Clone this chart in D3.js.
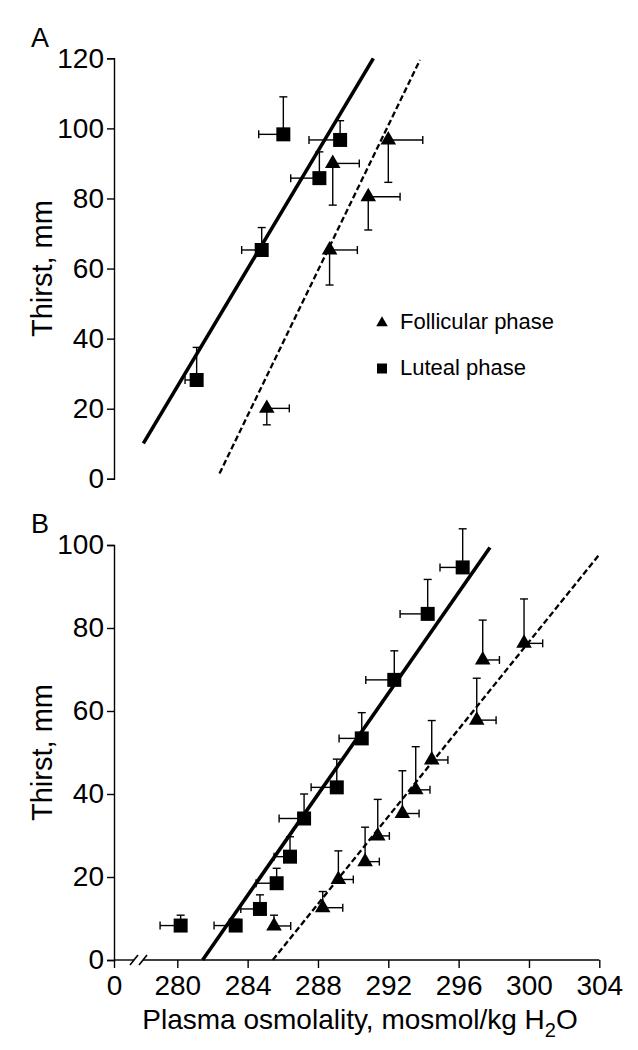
<!DOCTYPE html>
<html>
<head>
<meta charset="utf-8">
<script src="https://cdn.jsdelivr.net/npm/d3@7"></script>
<style>
  html, body { margin: 0; padding: 0; background: #fff; }
  svg { display: block; font-family: "Liberation Sans", Arial, Helvetica, sans-serif; }
</style>
</head>
<body>
<svg id="chart" width="638" height="1050"></svg>
<script>
// ---------------- DATA ----------------
// Panel A (osmolality mosmol/kg H2O, thirst mm, SEMs)
const aLutealOsm      = [281.1, 284.8, 286.03, 288.08, 289.26];
const aLutealThirst   = [28.2, 65.3, 98.3, 85.8, 96.7];
const aLutealOsmSem   = [0.66, 1.14, 1.4, 1.63, 1.77];
const aLutealThSem    = [9.3, 6.4, 10.7, 7.5, 5.5];

const aFollOsm        = [285.09, 288.66, 288.84, 290.86, 292.0];
const aFollThirst     = [20.1, 65.3, 90.0, 80.5, 96.7];
const aFollOsmSem     = [1.28, 1.58, 1.51, 1.81, 1.96];
const aFollThSem      = [4.7, 10.0, 11.9, 9.5, 12.1];

// Panel B
const bLutealOsm      = [280.19, 283.32, 284.7, 285.65, 286.41, 287.21, 289.07, 290.49, 292.34, 294.24, 296.23];
const bLutealThirst   = [8.3, 8.3, 12.3, 18.5, 24.9, 34.1, 41.6, 53.4, 67.5, 83.4, 94.6];
const bLutealOsmSem   = [1.17, 1.23, 1.09, 1.17, 0.91, 1.42, 1.46, 1.29, 1.62, 1.57, 1.29];
const bLutealThSem    = [2.5, 1.5, 3.4, 3.6, 4.8, 5.9, 6.8, 6.2, 7.0, 8.3, 9.3];

const bFollOsm        = [285.5, 288.27, 289.16, 290.68, 291.4, 292.8, 293.56, 294.47, 297.03, 297.37, 299.72];
const bFollThirst     = [8.2, 12.6, 19.4, 23.7, 29.9, 35.3, 41.0, 48.2, 57.8, 72.3, 76.3];
const bFollOsmSem     = [0.95, 1.14, 0.85, 0.81, 0.66, 0.95, 0.81, 0.92, 1.1, 0.95, 1.06];
const bFollThSem      = [2.6, 3.9, 6.9, 8.3, 8.8, 10.3, 10.4, 9.5, 10.1, 9.6, 10.7];

// Regression lines: [osmolality, thirst] end points
const aLutealFit = [[278.07, 10.1], [291.15, 120]];
const aFollFit   = [[282.4, 1.5], [293.8, 119.5]];
const bLutealFit = [[281.44, 0], [297.78, 99.4]];
const bFollFit   = [[285.43, 0], [303.98, 97.6]];

// Ticks
const xTicks  = [0, 280, 284, 288, 292, 296, 300, 304];
const yTicksA = [0, 20, 40, 60, 80, 100, 120];
const yTicksB = [0, 20, 40, 60, 80, 100];

const legendLabels = ["Follicular phase", "Luteal phase"];
const yTitle = "Thirst, mm";

// ---------------- LAYOUT ----------------
const svg = d3.select("#chart");
const X0 = 114;
// piecewise (broken) x scale: 0 .. 278 compressed, 278..304 linear
const x = d3.scaleLinear().domain([0, 278, 304]).range([X0, 142.14, 599.3]);
const yA = d3.scaleLinear().domain([0, 120]).range([478.8, 58.3]);
const yB = d3.scaleLinear().domain([0, 100]).range([960, 545]);

const tickFont = 28;
const black = "#000";

function yAxis(scale, ticks) {
  const g = svg.append("g").attr("transform", `translate(${X0},0)`)
    .call(d3.axisLeft(scale).tickValues(ticks).tickSize(7).tickPadding(3).tickFormat(d3.format("d")));
  g.select(".domain").attr("stroke", black).attr("stroke-width", 1.4);
  g.selectAll(".tick line").attr("stroke", black).attr("stroke-width", 1.4);
  g.selectAll(".tick text").attr("font-size", tickFont).attr("font-family", "Liberation Sans, Arial, sans-serif").attr("fill", black);
  return g;
}

function errorBars(g, xs, ys, xsem, ysem, yScale, xDir, yDir) {
  const cap = 4;
  xs.forEach((v, i) => {
    const cx = x(v), cy = yScale(ys[i]);
    const xe = x(v + xDir * xsem[i]);
    const ye = yScale(ys[i] + yDir * ysem[i]);
    g.append("line").attr("x1", cx).attr("y1", cy).attr("x2", xe).attr("y2", cy);
    g.append("line").attr("x1", xe).attr("y1", cy - cap).attr("x2", xe).attr("y2", cy + cap);
    g.append("line").attr("x1", cx).attr("y1", cy).attr("x2", cx).attr("y2", ye);
    g.append("line").attr("x1", cx - cap).attr("y1", ye).attr("x2", cx + cap).attr("y2", ye);
  });
  g.attr("stroke", black).attr("stroke-width", 1.4);
}

function markers(xs, ys, yScale, type, size) {
  svg.append("g").selectAll("path").data(xs).join("path")
    .attr("d", d3.symbol().type(type).size(size))
    .attr("transform", (d, i) => `translate(${x(d)},${yScale(ys[i])})`)
    .attr("fill", black);
}

function fitLine(pts, yScale, dashed) {
  const line = d3.line().x(d => x(d[0])).y(d => yScale(d[1]));
  const p = svg.append("path").datum(pts).attr("d", line).attr("fill", "none").attr("stroke", black);
  if (dashed) p.attr("stroke-width", 2.3).attr("stroke-dasharray", "6,3");
  else p.attr("stroke-width", 3.6);
}

// ---------------- PANEL A ----------------
yAxis(yA, yTicksA);
errorBars(svg.append("g"), aLutealOsm, aLutealThirst, aLutealOsmSem, aLutealThSem, yA, -1, 1);
errorBars(svg.append("g"), aFollOsm, aFollThirst, aFollOsmSem, aFollThSem, yA, 1, -1);
fitLine(aLutealFit, yA, false);
fitLine(aFollFit, yA, true);
markers(aLutealOsm, aLutealThirst, yA, d3.symbolSquare, 196);
markers(aFollOsm, aFollThirst, yA, d3.symbolTriangle, 105);

svg.append("text").attr("x", 31).attr("y", 47).attr("font-size", 27).text("A");
svg.append("text").attr("transform", `translate(52,${(yA(0) + yA(120)) / 2}) rotate(-90)`)
  .attr("text-anchor", "middle").attr("font-size", 29).text(yTitle);

// legend
const legTypes = [d3.symbolTriangle, d3.symbolSquare];
const legSizes = [58, 100];
legendLabels.forEach((lab, i) => {
  const ly = 323 + i * 45.5;
  svg.append("path").attr("d", d3.symbol().type(legTypes[i]).size(legSizes[i]))
    .attr("transform", `translate(382,${ly})`).attr("fill", black);
  svg.append("text").attr("x", 400).attr("y", ly + 6).attr("font-size", 22).text(lab);
});

// ---------------- PANEL B ----------------
yAxis(yB, yTicksB);
// x axis with break
const xg = svg.append("g").attr("transform", `translate(0,${yB(0)})`)
  .call(d3.axisBottom(x).tickValues(xTicks).tickSize(8).tickPadding(7).tickFormat(d3.format("d")));
xg.select(".domain").remove();
xg.selectAll(".tick line").attr("stroke", black).attr("stroke-width", 1.4);
xg.selectAll(".tick text").attr("font-size", tickFont).attr("font-family", "Liberation Sans, Arial, sans-serif").attr("fill", black);
const y0 = yB(0);
svg.append("line").attr("x1", X0).attr("x2", 134).attr("y1", y0).attr("y2", y0).attr("stroke", black).attr("stroke-width", 1.4);
svg.append("line").attr("x1", 143).attr("x2", x(304)).attr("y1", y0).attr("y2", y0).attr("stroke", black).attr("stroke-width", 1.4);
[134, 143].forEach(bx => {
  svg.append("line").attr("x1", bx - 4).attr("y1", y0 + 5).attr("x2", bx + 4).attr("y2", y0 - 5)
    .attr("stroke", black).attr("stroke-width", 1.6);
});

errorBars(svg.append("g"), bLutealOsm, bLutealThirst, bLutealOsmSem, bLutealThSem, yB, -1, 1);
errorBars(svg.append("g"), bFollOsm, bFollThirst, bFollOsmSem, bFollThSem, yB, 1, 1);
fitLine(bLutealFit, yB, false);
fitLine(bFollFit, yB, true);
markers(bLutealOsm, bLutealThirst, yB, d3.symbolSquare, 196);
markers(bFollOsm, bFollThirst, yB, d3.symbolTriangle, 105);

svg.append("text").attr("x", 31).attr("y", 533).attr("font-size", 27).text("B");
svg.append("text").attr("transform", `translate(52,${(yB(0) + yB(100)) / 2}) rotate(-90)`)
  .attr("text-anchor", "middle").attr("font-size", 29).text(yTitle);

// x title
const xt = svg.append("text").attr("x", 360).attr("y", 1029).attr("text-anchor", "middle").attr("font-size", 28);
xt.append("tspan").text("Plasma osmolality, mosmol/kg H");
xt.append("tspan").attr("font-size", 20).attr("dy", 8).text("2");
xt.append("tspan").attr("dy", -8).text("O");
</script>
</body>
</html>
